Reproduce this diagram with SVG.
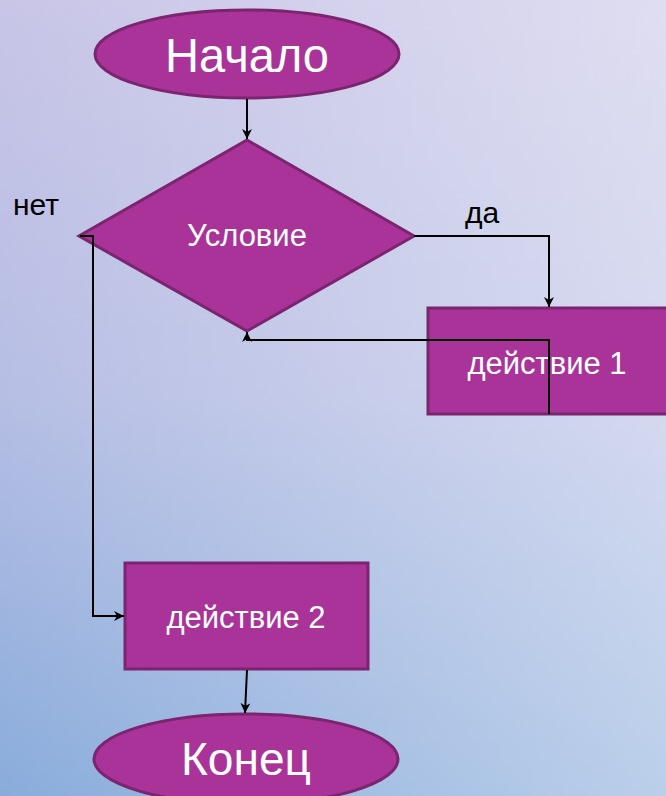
<svg xmlns="http://www.w3.org/2000/svg" width="666" height="796" viewBox="0 0 666 796">
<defs>
<linearGradient id="bg" x1="0" y1="0" x2="0" y2="1">
<stop offset="0" stop-color="#C8C5E7"/>
<stop offset="0.5" stop-color="#B6BEE4"/>
<stop offset="1" stop-color="#89ACDB"/>
</linearGradient>
<linearGradient id="ov" x1="0" y1="0" x2="1" y2="0">
<stop offset="0" stop-color="#FFFFFF" stop-opacity="0"/>
<stop offset="1" stop-color="#FFFFFF" stop-opacity="0.42"/>
</linearGradient>
<marker id="arr" viewBox="0 0 10 10" refX="10" refY="5" markerWidth="10" markerHeight="10" markerUnits="userSpaceOnUse" orient="auto">
<path d="M0,0 L10,5 L0,10 L3,5 Z" fill="#000"/>
</marker>
<style>
.shape{fill:#AA3399;stroke:#7B2570;stroke-width:3}
.t{fill:#fff;font-family:"Liberation Sans",Arial,sans-serif;text-anchor:middle}
.lbl{fill:#000;font-family:"Liberation Sans",Arial,sans-serif;font-size:30px}
.c{fill:none;stroke:#000;stroke-width:2}
</style>
</defs>
<rect width="666" height="796" fill="url(#bg)"/>
<rect width="666" height="796" fill="url(#ov)"/>
<g id="start">
<ellipse class="shape" cx="247" cy="54" rx="152" ry="44"/>
<text class="t" x="247" y="72" font-size="48" textLength="164" lengthAdjust="spacingAndGlyphs">Начало</text>
</g>
<g id="condition">
<polygon class="shape" points="247,140 414,236 247,331 79,236"/>
<text class="t" x="247" y="246" font-size="31">Условие</text>
</g>
<g id="action1">
<rect class="shape" x="428" y="308" width="245" height="106"/>
<text class="t" x="547" y="374" font-size="31">действие 1</text>
</g>
<g id="action2">
<rect class="shape" x="125" y="563" width="243" height="106"/>
<text class="t" x="246" y="628" font-size="31">действие 2</text>
</g>
<g id="end">
<ellipse class="shape" cx="246" cy="759" rx="152" ry="45"/>
<text class="t" x="246" y="775" font-size="47" textLength="130" lengthAdjust="spacingAndGlyphs">Конец</text>
</g>
<g id="connectors">
<path class="c" d="M247,99 L247,139" marker-end="url(#arr)"/>
<path class="c" d="M414,236 L549,236 L549,307" marker-end="url(#arr)"/>
<path class="c" d="M549,414 L549,340 L247,340 L247,332" marker-end="url(#arr)"/>
<path class="c" d="M80,236 L93,236 L93,616 L124,616" marker-end="url(#arr)"/>
<path class="c" d="M247,670 L245,713" marker-end="url(#arr)"/>
<text class="lbl" x="13" y="215">нет</text>
<text class="lbl" x="465" y="223">да</text>
</g>
</svg>
